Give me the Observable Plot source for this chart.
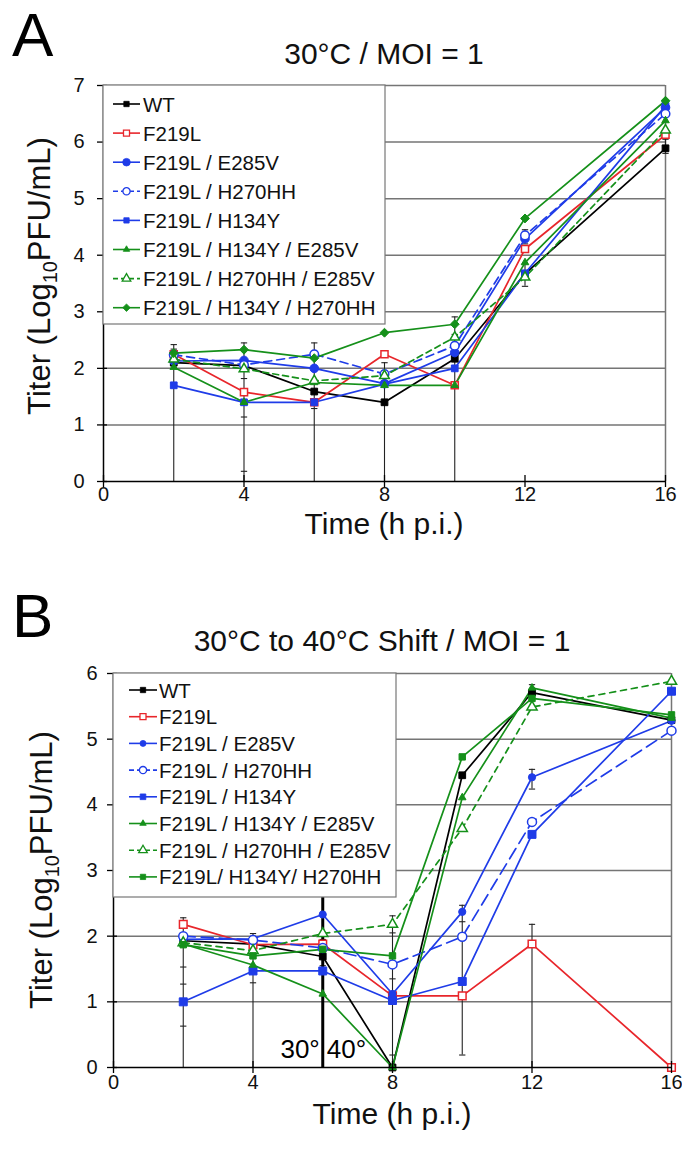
<!DOCTYPE html>
<html><head><meta charset="utf-8">
<script src="https://cdn.jsdelivr.net/npm/d3@7"></script>
<script src="https://cdn.jsdelivr.net/npm/@observablehq/plot@0.6"></script>
<style>body{margin:0;background:#fff;} #chart svg{display:block}</style>
</head><body><div id="chart"></div>
<script>
// ---------- data ----------
const times = [2, 4, 6, 8, 10, 12, 16];
const seriesNames = ["WT", "F219L", "F219L / E285V", "F219L / H270HH", "F219L / H134Y",
  "F219L / H134Y / E285V", "F219L / H270HH / E285V", "F219L / H134Y / H270HH"];
const legendLabelsB = ["WT", "F219L", "F219L / E285V", "F219L / H270HH", "F219L / H134Y",
  "F219L / H134Y / E285V", "F219L / H270HH / E285V", "F219L/ H134Y/ H270HH"];

// Panel A: 30°C / MOI = 1
const A_WT        = [2.10, 2.05, 1.59, 1.40, 2.17, 3.67, 5.89];
const A_F219L     = [2.25, 1.58, 1.40, 2.25, 1.70, 4.11, 6.13];
const A_E285V     = [2.13, 2.14, 2.00, 1.73, 2.28, 4.29, 6.61];
const A_H270HH    = [2.24, 2.06, 2.25, 1.90, 2.40, 4.35, 6.50];
const A_H134Y     = [1.70, 1.40, 1.40, 1.72, 2.00, 3.68, 6.64];
const A_H134Y_E285V  = [2.02, 1.40, 1.75, 1.70, 1.70, 3.87, 6.38];
const A_H270HH_E285V = [2.16, 1.99, 1.78, 1.87, 2.55, 3.61, 6.21];
const A_H134Y_H270HH = [2.27, 2.33, 2.18, 2.63, 2.78, 4.65, 6.73];

// Panel B: 30°C to 40°C shift / MOI = 1
const B_WT        = [1.93, 1.88, 1.69, 0.00, 4.45, 5.71, 5.29];
const B_F219L     = [2.18, 1.87, 1.88, 1.09, 1.09, 1.88, 0.00];
const B_E285V     = [1.95, 1.96, 2.33, 1.12, 2.37, 4.42, 5.28];
const B_H270HH    = [2.00, 1.94, 1.82, 1.57, 1.99, 3.74, 5.13];
const B_H134Y     = [1.00, 1.47, 1.47, 1.02, 1.31, 3.55, 5.73];
const B_H134Y_E285V  = [1.88, 1.56, 1.12, 0.00, 4.11, 5.78, 5.32];
const B_H270HH_E285V = [1.90, 1.78, 2.04, 2.18, 3.64, 5.49, 5.88];
const B_H134Y_H270HH = [1.87, 1.70, 1.80, 1.70, 4.73, 5.62, 5.37];

// error bars (vertical lines) and caps
const A_errX  = [2, 4, 6, 8, 10, 12, 12, 16];
const A_errLo = [0, 0, 0, 0, 0, 3.45, 4.20, 5.80];
const A_errHi = [2.42, 2.45, 2.45, 2.10, 2.91, 3.85, 4.45, 6.05];
const A_capX  = [2, 2, 4, 4, 4, 4, 6, 6, 8, 8, 10, 10, 12, 12, 12, 12, 16, 16];
const A_capY  = [2.42, 2.34, 2.45, 1.82, 1.14, 0.18, 2.45, 1.29, 2.10, 1.95, 2.91, 2.60, 3.85, 3.45, 4.45, 4.20, 6.05, 5.80];

const B_errX  = [2, 4, 8, 10, 12, 12, 12];
const B_errLo = [0, 0, 0, 0.19, 0, 4.24, 5.60];
const B_errHi = [2.28, 2.04, 2.31, 2.47, 2.18, 4.54, 5.83];
const B_capX  = [2, 2, 2, 2, 4, 4, 4, 6, 6, 8, 8, 8, 8, 10, 10, 10, 12, 12, 12, 12];
const B_capY  = [2.28, 1.53, 1.27, 0.63, 2.04, 1.53, 1.29, 1.95, 1.55, 2.31, 2.05, 1.35, 0.19, 2.47, 2.22, 0.19, 2.18, 4.54, 4.24, 5.83];

const shiftTime = 6;
const xTicks = [0, 4, 8, 12, 16];

// ---------- styles ----------
const FONT = "'Liberation Sans', Arial, Helvetica, sans-serif";
const RED = "#e8262b", BLUE = "#1f3ce8", GREEN = "#15901a", BLACK = "#000000", GRID = "#757575";
const colors = [BLACK, RED, BLUE, BLUE, BLUE, GREEN, GREEN, GREEN];
const openMarker = [false, true, false, true, false, false, true, false];
const symbolsA = ["square", "square", "circle", "circle", "square", "triangle", "triangle", "diamond2"];
const symbolsB = ["square", "square", "circle", "circle", "square", "triangle", "triangle", "square"];
const radiiA = [3.8, 4.0, 4.3, 4.3, 3.8, 2.8, 3.6, 4.0];
const radiiB = [3.8, 4.3, 3.6, 4.5, 4.5, 2.8, 3.8, 3.6];
const dashA = [null, null, null, "8,5", null, null, "6,4", null];
const dashB = [null, null, null, "12,6", null, null, "6,5", null];

function build(values) {
  return values.map((vals, i) => times.map((t, j) => ({series: seriesNames[i], i, x: t, y: vals[j]})));
}
const rowsA = build([A_WT, A_F219L, A_E285V, A_H270HH, A_H134Y, A_H134Y_E285V, A_H270HH_E285V, A_H134Y_H270HH]);
const rowsB = build([B_WT, B_F219L, B_E285V, B_H270HH, B_H134Y, B_H134Y_E285V, B_H270HH_E285V, B_H134Y_H270HH]);

const zip3 = (xs, los, his) => xs.map((x, k) => ({x, lo: los[k], hi: his[k]}));
const zip2 = (xs, ys) => xs.map((x, k) => ({x, y: ys[k]}));

function panel(opts) {
  const {rows, yMax, height, margin, errs, caps, symbols, radii, dashes, shift, yPad, xPad} = opts;
  const marks = [
    Plot.ruleY(d3.range(1, yMax + 1), {stroke: GRID, strokeWidth: 1.5}),
    Plot.ruleX([16], {stroke: GRID, strokeWidth: 1.5}),
    Plot.ruleX(errs, {x: "x", y1: "lo", y2: "hi", stroke: "#222", strokeWidth: 1.1}),
    Plot.link(caps, {x1: d => d.x - 0.09, x2: d => d.x + 0.09, y1: "y", y2: "y", stroke: "#222", strokeWidth: 1.1})
  ];
  if (shift != null) {
    marks.push(Plot.ruleX([shift], {y1: 0, y2: yMax, stroke: BLACK, strokeWidth: 3}));
    marks.push(Plot.text([{x: shift, y: 0}], {x: "x", y: "y", text: () => "30°", textAnchor: "end", dx: -3, dy: -18, fontSize: 26, fill: "#000"}));
    marks.push(Plot.text([{x: shift, y: 0}], {x: "x", y: "y", text: () => "40°", textAnchor: "start", dx: 4, dy: -18, fontSize: 26, fill: "#000"}));
  }
  rows.forEach((r, i) => {
    marks.push(Plot.line(r, {x: "x", y: "y", stroke: colors[i], strokeWidth: 1.7, strokeDasharray: dashes[i] || undefined}));
  });
  rows.forEach((r, i) => {
    marks.push(Plot.dot(r, {x: "x", y: "y", symbol: symbols[i], r: radii[i],
      fill: openMarker[i] ? "white" : colors[i], stroke: colors[i], strokeWidth: openMarker[i] ? 1.5 : 1}));
  });
  marks.push(Plot.ruleX([0], {stroke: BLACK, strokeWidth: 1.5}));
  marks.push(Plot.ruleY([0], {stroke: BLACK, strokeWidth: 1.5}));
  marks.push(Plot.ruleX(xTicks, {y1: 0, y2: 0, insetTop: -6, insetBottom: -6, stroke: BLACK, strokeWidth: 1.3}));
  marks.push(Plot.ruleY(d3.range(0, yMax + 1), {x1: 0, x2: 0, insetLeft: -6, insetRight: -4, stroke: BLACK, strokeWidth: 1.3}));
  return Plot.plot({
    width: 682, height,
    marginTop: margin[0], marginRight: margin[1], marginBottom: margin[2], marginLeft: margin[3],
    style: {fontFamily: FONT, fontSize: "20px", color: "#111", background: "white", overflow: "visible"},
    x: {domain: [0, 16], ticks: xTicks, tickSize: 0, tickPadding: xPad, label: null, tickFormat: d3.format("d")},
    y: {domain: [0, yMax], ticks: d3.range(0, yMax + 1), tickSize: 0, tickPadding: yPad, label: null, tickFormat: d3.format("d")},
    marks
  });
}

const symType = {square: d3.symbolSquare, circle: d3.symbolCircle, triangle: d3.symbolTriangle, diamond2: d3.symbolDiamond2};

function decorate(node, o) {
  const svg = d3.select(node);
  svg.append("text").attr("x", o.letterX).attr("y", o.letterY).attr("font-size", 62).attr("text-anchor", "start")
    .attr("font-family", FONT).attr("fill", "#000").text(o.letter);
  svg.append("text").attr("x", o.titleX).attr("y", o.titleY).attr("font-size", 30)
    .attr("text-anchor", "middle").attr("font-family", FONT).attr("fill", "#111").text(o.title);
  const yl = svg.append("text").attr("transform", `translate(${o.ylabX},${o.ylabY}) rotate(-90)`)
    .attr("text-anchor", "middle").attr("font-size", 31).attr("font-family", FONT).attr("fill", "#111");
  yl.append("tspan").text("Titer (Log");
  yl.append("tspan").attr("font-size", 20).attr("dy", 7).text("10");
  yl.append("tspan").attr("dy", -7).text("PFU/mL)");
  svg.append("text").attr("x", o.xlabX).attr("y", o.xlabY).attr("font-size", 30)
    .attr("text-anchor", "middle").attr("font-family", FONT).attr("fill", "#111").text("Time (h p.i.)");
  // legend
  const g = svg.append("g").attr("text-anchor", "start");
  g.append("rect").attr("x", o.box[0]).attr("y", o.box[1]).attr("width", o.box[2]).attr("height", o.box[3])
    .attr("fill", "white").attr("stroke", "#777").attr("stroke-width", 1.2);
  o.labels.forEach((lab, i) => {
    const cy = o.row0 + i * o.rowStep;
    g.append("line").attr("x1", o.lineX[0]).attr("x2", o.lineX[1]).attr("y1", cy).attr("y2", cy)
      .attr("stroke", colors[i]).attr("stroke-width", 1.6)
      .attr("stroke-dasharray", o.dashes[i] ? "5,3" : null);
    const mx = (o.lineX[0] + o.lineX[1]) / 2;
    const rr = o.legR[i];
    g.append("path").attr("d", d3.symbol().type(symType[o.symbols[i]]).size(Math.PI * rr * rr)())
      .attr("transform", `translate(${mx},${cy})`)
      .attr("fill", openMarker[i] ? "white" : colors[i]).attr("stroke", colors[i]).attr("stroke-width", openMarker[i] ? 1.3 : 0.8);
    g.append("text").attr("x", o.textX).attr("y", cy + 7.5).attr("font-size", 20.5).attr("text-anchor", "start")
      .attr("font-family", FONT).attr("fill", "#111").text(lab);
  });
}

const chart = document.getElementById("chart");

const pA = panel({rows: rowsA, yMax: 7, height: 560, margin: [85, 17, 79, 103],
  errs: zip3(A_errX, A_errLo, A_errHi), caps: zip2(A_capX, A_capY),
  symbols: symbolsA, radii: radiiA, dashes: dashA, shift: null, yPad: 19, xPad: 5});
decorate(pA, {letter: "A", letterX: 12, letterY: 56, title: "30°C / MOI = 1", titleX: 384, titleY: 64,
  ylabX: 50, ylabY: 276, xlabX: 384, xlabY: 534,
  box: [103, 85, 282, 239], row0: 104, rowStep: 29.1, lineX: [113, 140], textX: 143,
  labels: seriesNames, symbols: symbolsA, dashes: dashA, legR: [3, 3.4, 3.8, 3.6, 3, 2.4, 3.2, 3.4]});
chart.appendChild(pA);

const pB = panel({rows: rowsB, yMax: 6, height: 597, margin: [113, 11, 90, 113],
  errs: zip3(B_errX, B_errLo, B_errHi), caps: zip2(B_capX, B_capY),
  symbols: symbolsB, radii: radiiB, dashes: dashB, shift: shiftTime, yPad: 16, xPad: 7});
decorate(pB, {letter: "B", letterX: 12, letterY: 77, title: "30°C to 40°C Shift / MOI = 1", titleX: 382, titleY: 91,
  ylabX: 52, ylabY: 310, xlabX: 392, xlabY: 564,
  box: [113, 113, 283, 224], row0: 130, rowStep: 26.7, lineX: [129, 157], textX: 159,
  labels: legendLabelsB, symbols: symbolsB, dashes: dashB, legR: [3, 3.4, 3, 3.6, 3.2, 2.4, 3.2, 3]});
chart.appendChild(pB);
</script>
</body></html>
